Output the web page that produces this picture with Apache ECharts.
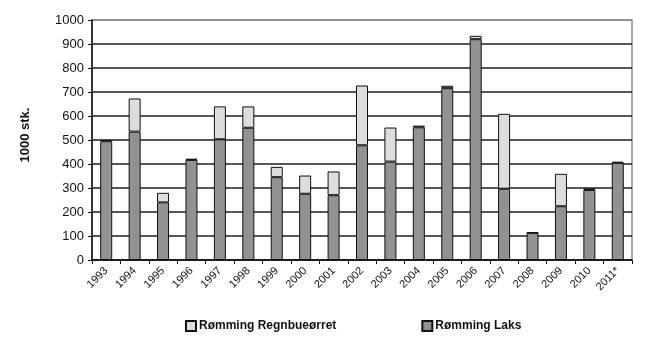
<!DOCTYPE html>
<html><head><meta charset="utf-8">
<script src="https://cdn.jsdelivr.net/npm/echarts@6/dist/echarts.min.js"></script>
<style>html,body{margin:0;padding:0;background:#fff}#c{width:650px;height:361px}</style>
</head><body><div id="c"></div>
<script>
const years = ['1993','1994','1995','1996','1997','1998','1999','2000','2001','2002','2003','2004','2005','2006','2007','2008','2009','2010','2011*'];
const laks = [495,535,240,417,503,551,345,276,270,478,410,553,716,920,297,113,224,292,405];
const regnbue = [5,138,40,5,137,89,43,76,99,249,142,7,10,14,312,3,135,6,4];
const yTicks = [0,100,200,300,400,500,600,700,800,900,1000];

const chart = echarts.init(document.getElementById('c'));
const font = 'Liberation Sans, Arial, sans-serif';
const splitColors = yTicks.map((v,i)=> i===yTicks.length-1 ? '#8a8a8a' : '#1e1e1e');
chart.setOption({
  animation:false,
  textStyle:{fontFamily:font},
  grid:{left:92,right:18,top:20,bottom:101,show:true,borderColor:'#8a8a8a',borderWidth:1.5,backgroundColor:'transparent'},
  legend:{
    left:180, top:315, itemWidth:10, itemHeight:10, itemGap:85, icon:'rect',
    data:['Rømming Regnbueørret','Rømming Laks'],
    textStyle:{fontFamily:font,fontSize:12,fontWeight:'bold',color:'#111',padding:[0,0,0,-2]}
  },
  xAxis:{
    type:'category', data:years,
    axisLine:{lineStyle:{color:'#111',width:1.5}},
    axisTick:{show:true,length:4,lineStyle:{color:'#111'}},
    axisLabel:{rotate:45,fontSize:11,color:'#111',margin:9,interval:0,fontFamily:font}
  },
  yAxis:{
    type:'value', min:0, max:1000, interval:100,
    name:'1000 stk.', nameLocation:'middle', nameGap:60, nameRotate:90,
    nameTextStyle:{fontFamily:font,fontSize:13,fontWeight:'bold',color:'#111',padding:[0,0,0,10]},
    axisLine:{show:true,lineStyle:{color:'#111',width:1.5}},
    axisTick:{show:true,length:4,lineStyle:{color:'#111'}},
    axisLabel:{fontSize:13,color:'#111',margin:8,fontFamily:font,formatter:v=>String(v)},
    splitLine:{show:true,lineStyle:{color:splitColors,width:1.5}}
  },
  series:[
    {name:'Rømming Laks',type:'bar',stack:'a',data:laks,barWidth:12,
     itemStyle:{color:'#929295',borderColor:'#111',borderWidth:1}},
    {name:'Rømming Regnbueørret',type:'bar',stack:'a',data:regnbue,barWidth:12,
     itemStyle:{color:'#dcdddd',borderColor:'#111',borderWidth:1}}
  ]
});
</script></body></html>
